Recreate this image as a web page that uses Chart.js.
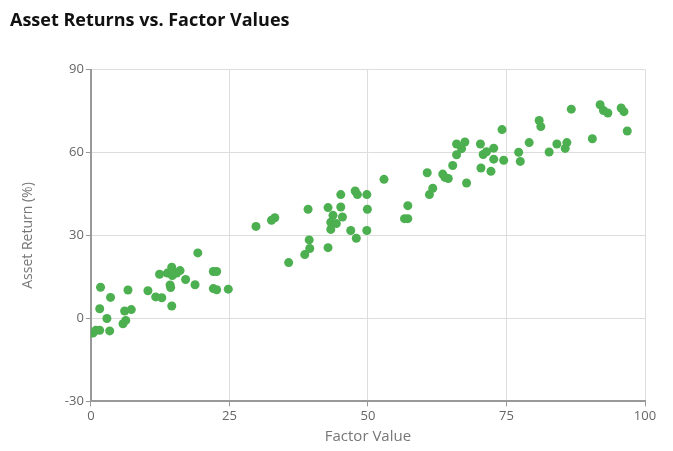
<!DOCTYPE html>
<html lang="en">
<head>
<meta charset="UTF-8">
<title>Asset Returns vs. Factor Values</title>
<script src="https://cdn.jsdelivr.net/npm/chart.js"></script>
<style>
    body { margin: 0; background: #fff; }
    .wrap { width: 673px; height: 451px; }
</style>
</head>
<body>
<div class="wrap"><canvas id="scatter"></canvas></div>
<script>
// values
var factorValues = [19.3, 1.75, 3.55, 6.7, 1.6, 2.9, 0.4, 0.9, 1.6, 3.4, 5.8, 6.3, 6.1, 7.3, 10.3, 11.7, 12.8, 14.6, 12.4, 13.8,
    14.6, 14.7, 15.5, 16.1, 14.3, 14.4, 17.1, 18.8, 22.1, 22.7, 22.1, 22.7, 24.8, 29.8,
    33.2, 32.6, 39.2, 35.7, 38.6, 39.5, 39.4, 42.8, 42.8, 45.1, 45.1, 43.7, 43.3, 44.3, 45.4, 43.3,
    46.9, 47.9, 47.7, 48.1, 49.8, 49.9, 49.8, 52.9, 57.2, 56.6, 57.2, 60.7, 61.1,
    61.7, 63.5, 63.9, 64.5, 65.3, 67.8, 66.0, 66.0, 67.5, 66.9, 70.3, 70.4, 70.8, 71.4, 72.7, 72.7,
    72.2, 74.2, 74.5, 77.2, 77.5, 79.1, 81.2, 80.9, 82.7, 84.1,
    85.9, 85.6, 86.7, 90.5, 91.9, 92.5, 93.3, 95.7, 96.2, 96.8];
var assetReturns = [23.7, 11.3, 7.6, 10.3, 3.5, 0.0, -5.3, -4.3, -4.3, -4.5, -1.9, -0.7, 2.7, 3.2, 10.0, 7.8, 7.5, 4.5, 16.0, 16.4,
    18.5, 15.5, 16.4, 17.3, 12.1, 11.2, 14.1, 12.2, 17.0, 17.0, 10.8, 10.4, 10.6, 33.3,
    36.4, 35.5, 39.5, 20.2, 23.1, 25.3, 28.4, 25.6, 40.1, 44.8, 40.3, 37.3, 34.8, 34.3, 36.7, 32.2,
    31.8, 29.0, 46.1, 44.8, 44.8, 39.5, 31.8, 50.3, 40.8, 36.1, 36.1, 52.7, 44.8,
    47.1, 52.2, 51.0, 50.6, 55.3, 49.0, 59.2, 63.1, 63.8, 61.4, 63.1, 54.4, 59.3, 60.3, 61.6, 57.6,
    53.2, 68.3, 57.2, 60.1, 56.8, 63.6, 69.4, 71.6, 60.2, 63.1,
    63.6, 61.5, 75.7, 65.0, 77.3, 75.2, 74.3, 76.1, 74.8, 67.8];
var xTicks = [0, 25, 50, 75, 100];
var yTicks = [-30, 0, 30, 60, 90];

var points = factorValues.map(function (x, i) {
    return { x: x, y: assetReturns[i] };
});

Chart.defaults.font.family = "'Open Sans', 'Noto Sans', sans-serif";
Chart.defaults.color = '#666';

var ctx = document.getElementById('scatter');
new Chart(ctx, {
    type: 'scatter',
    data: {
        datasets: [{
            label: 'Assets',
            data: points,
            backgroundColor: '#4CAF50',
            borderWidth: 0,
            pointRadius: 4.5,
            pointHoverRadius: 5
        }]
    },
    options: {
        responsive: true,
        maintainAspectRatio: false,
        animation: false,
        layout: {
            padding: { left: 10, right: 28, top: 10, bottom: 5 }
        },
        plugins: {
            legend: { display: false },
            tooltip: { enabled: false },
            title: {
                display: true,
                text: 'Asset Returns vs. Factor Values',
                align: 'start',
                color: '#111',
                font: { size: 18, weight: 'bold' },
                padding: { top: 0, bottom: 38 }
            }
        },
        scales: {
            x: {
                type: 'linear',
                min: xTicks[0],
                max: xTicks[xTicks.length - 1],
                afterBuildTicks: function (axis) {
                    axis.ticks = xTicks.map(function (v) { return { value: v }; });
                },
                ticks: { font: { size: 13 }, color: '#666', padding: 2 },
                grid: { color: '#ddd', tickColor: '#999', tickLength: 5, lineWidth: 1 },
                border: { color: '#999', width: 2 },
                title: {
                    display: true,
                    text: 'Factor Value',
                    color: '#777',
                    font: { size: 15 },
                    padding: { top: 2, bottom: 0 }
                }
            },
            y: {
                type: 'linear',
                min: yTicks[0],
                max: yTicks[yTicks.length - 1],
                afterBuildTicks: function (axis) {
                    axis.ticks = yTicks.map(function (v) { return { value: v }; });
                },
                ticks: { font: { size: 13 }, color: '#666', padding: 2 },
                grid: { color: '#ddd', tickColor: '#999', tickLength: 5, lineWidth: 1 },
                border: { color: '#999', width: 2 },
                title: {
                    display: true,
                    text: 'Asset Return (%)',
                    color: '#777',
                    font: { size: 14 },
                    padding: { top: 10, bottom: 26 }
                }
            }
        }
    }
});
</script>
</body>
</html>
